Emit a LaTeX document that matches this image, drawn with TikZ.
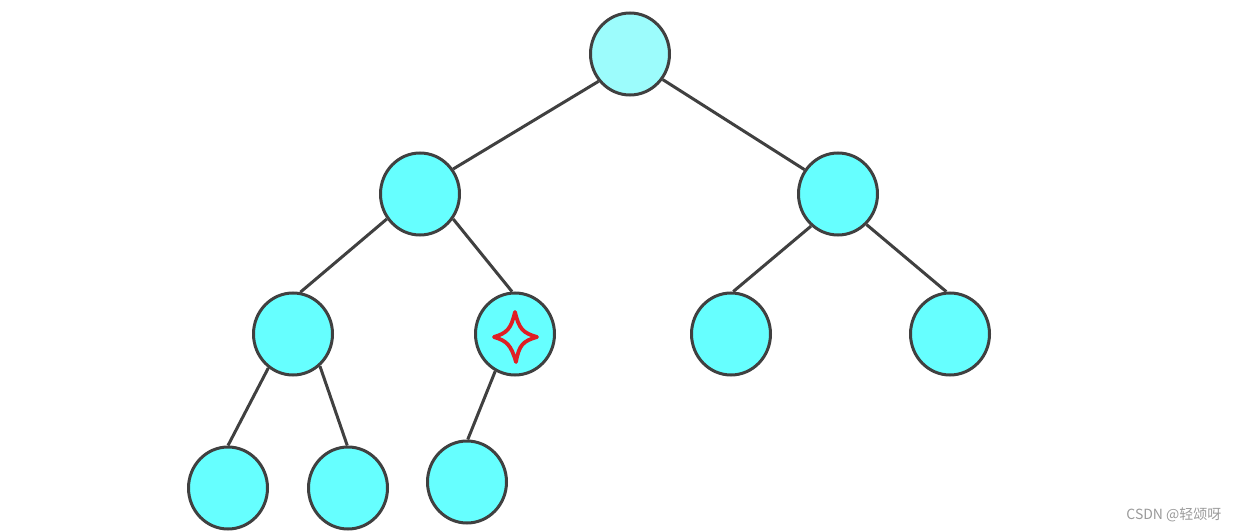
\documentclass[tikz,border=0pt]{standalone}
\usepackage{fontspec}
\newfontfamily\cjk{Noto Sans CJK SC}
\usetikzlibrary{shapes.geometric,calc}
\definecolor{nodefill}{HTML}{66FFFF}
\definecolor{rootfill}{HTML}{9CFCFC}
\definecolor{edgecol}{HTML}{404040}
\definecolor{starred}{HTML}{E01E24}
\definecolor{wmgray}{HTML}{9A9A9A}
\tikzset{
  tnode/.style={ellipse, draw=edgecol, line width=3pt, fill=nodefill, minimum width=79pt, minimum height=82pt, inner sep=0pt},
  rootnode/.style={tnode, fill=rootfill},
  tedge/.style={draw=edgecol, line width=3pt},
}
\begin{document}
\begin{tikzpicture}[x=1pt,y=-1pt]
\useasboundingbox (0,0) rectangle (1240,532);
\node[rootnode] (r) at (630,54) {};
\node[tnode] (l) at (420,194) {};
\node[tnode] (rr) at (838,194) {};
\node[tnode] (ll) at (293,334) {};
\node[tnode] (lr) at (515,334) {};
\node[tnode] (rl) at (731,334) {};
\node[tnode] (rrr) at (950,334) {};
\node[tnode] (lll) at (228,488) {};
\node[tnode] (llr) at (348,488) {};
\node[tnode] (lrl) at (467,482) {};
\draw[tedge] (r.221) -- (l.37);
\draw[tedge] (r.322) -- (rr.144);
\draw[tedge] (l.217) -- (ll.80);
\draw[tedge] (l.323) -- (lr.94);
\draw[tedge] (rr.230) -- (rl.87);
\draw[tedge] (rr.313) -- (rrr.95);
\draw[tedge] (ll.234) -- (lll.90);
\draw[tedge] (ll.310) -- (llr.91);
\draw[tedge] (lr.242) -- (lrl.89);
\coordinate (sc) at (515,337);
\draw[starred, line width=3.8pt, line join=round]
  ($(sc)+(0,-25)$) .. controls ($(sc)+(4,-8)$) and ($(sc)+(8,-4)$) .. ($(sc)+(22,0)$)
  .. controls ($(sc)+(8,4)$) and ($(sc)+(4,8)$) .. ($(sc)+(1,25)$)
  .. controls ($(sc)+(-4,8)$) and ($(sc)+(-8,4)$) .. ($(sc)+(-21,0)$)
  .. controls ($(sc)+(-8,-4)$) and ($(sc)+(-4,-8)$) .. cycle;
\node[text=wmgray, font=\cjk\fontsize{14pt}{16pt}\selectfont, anchor=east] (wm) at (1225,515) {CSDN @轻颂呀};
\end{tikzpicture}
\end{document}
